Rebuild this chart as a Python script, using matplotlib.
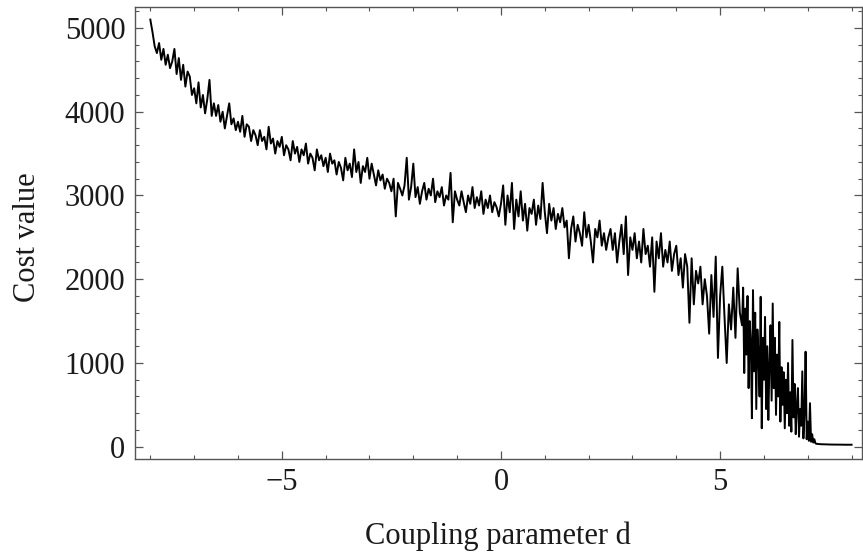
import numpy as np
import matplotlib
matplotlib.use("Agg")
import matplotlib.pyplot as plt
from matplotlib.ticker import MultipleLocator

# coupling parameter d: coarse steps of 0.05 from -8 to 5.45,
# finer steps of 0.025 through the noisy drop (5.5 .. 7.2),
# then 0.05 again from 7.25 to 8
d_main = (-8.0, 0.05)
d_drop = (5.5, 0.025)
d_tail = (7.25, 0.05)

# cost value, 10 values per 0.5 of d
cost_main = [
    5100, 4950, 4780, 4700, 4820, 4620, 4750, 4560, 4680, 4520,   # -8.0
    4600, 4750, 4450, 4640, 4380, 4560, 4300, 4480, 4420, 4200,   # -7.5
    4280, 4100, 4350, 4050, 4200, 3980, 4150, 4380, 3950, 4100,   # -7.0
    3950, 4080, 3880, 4000, 3800, 3950, 4100, 3850, 3920, 3780,   # -6.5
    3880, 3760, 3950, 3700, 3850, 3820, 3650, 3780, 3720, 3600,   # -6.0
    3780, 3650, 3700, 3550, 3820, 3620, 3680, 3500, 3650, 3580,   # -5.5
    3700, 3480, 3600, 3550, 3420, 3650, 3500, 3580, 3400, 3550,   # -5.0
    3480, 3620, 3380, 3500, 3450, 3300, 3550, 3420, 3480, 3350,   # -4.5
    3450, 3280, 3500, 3380, 3420, 3250, 3400, 3330, 3180, 3450,   # -4.0
    3300, 3380, 3220, 3550, 3280, 3400, 3150, 3350, 3280, 3450,   # -3.5
    3200, 3380, 3250, 3120, 3300, 3180, 3250, 3080, 3200, 3150,   # -3.0
    3050, 3200, 2750, 3150, 3080, 3000, 3120, 3450, 2950, 3100,   # -2.5
    3380, 2980, 3100, 2900, 3050, 3150, 2950, 3080, 3000, 3200,   # -2.0
    2920, 3050, 2980, 3100, 2880, 3000, 2950, 3270, 2680, 3050,   # -1.5
    2950, 2880, 3050, 2920, 2800, 3000, 2900, 3100, 2850, 2980,   # -1.0
    2880, 3050, 2780, 2950, 2850, 3000, 2800, 2920, 2860, 2750,   # -0.5
    2900, 3120, 2650, 3000, 2800, 3150, 2600, 2950, 2750, 3050,   # 0.0
    2700, 2900, 2580, 2850, 2780, 2950, 2650, 2880, 2720, 3150,   # 0.5
    2800, 2550, 2900, 2700, 2850, 2600, 2780, 2680, 2850, 2620,   # 1.0
    2700, 2250, 2600, 2750, 2450, 2650, 2550, 2400, 2800, 2500,   # 1.5
    2650, 2450, 2200, 2600, 2500, 2700, 2400, 2550, 2350, 2500,   # 2.0
    2600, 2350, 2550, 2200, 2450, 2650, 2300, 2750, 2050, 2500,   # 2.5
    2350, 2550, 2250, 2450, 2200, 2600, 2300, 2400, 2150, 2500,   # 3.0
    1850, 2450, 2250, 2550, 2150, 2350, 2200, 2450, 2100, 2300,   # 3.5
    2400, 2050, 2250, 1900, 2300, 2150, 1480, 2250, 1700, 2100,   # 4.0
    1950, 2150, 1700, 2000, 1800, 1350, 2050, 1550, 2270, 1060,   # 4.5
    1800, 2150, 1550, 1000, 1700, 1400, 1900, 1300, 2130, 1600,   # 5.0
]

cost_drop = [
    1450, 1900, 880, 1650, 1100, 1800, 700, 1500, 1250, 340,      # 5.5
    1870, 900, 1600, 450, 1400, 1100, 600, 1790, 220, 1300,       # 5.75
    800, 1550, 450, 1200, 320, 1000, 1450, 550, 1710, 700,        # 6.0
    1300, 380, 1100, 600, 1490, 300, 950, 500, 890, 220,          # 6.25
    800, 400, 1000, 250, 650, 180, 1275, 350, 750, 150,           # 6.5
    500, 700, 120, 450, 250, 900, 100, 400, 1135, 90,             # 6.75
    300, 70, 520, 60, 150, 50, 90, 40, 35,                        # 7.0
]

cost_tail = [32, 30, 29, 28, 27, 27, 26, 26, 25, 25, 25, 24, 24, 24, 24, 24]


def grid(start_step, n):
    return start_step[0] + start_step[1] * np.arange(n)


d = np.concatenate([grid(d_main, len(cost_main)),
                    grid(d_drop, len(cost_drop)),
                    grid(d_tail, len(cost_tail))])
cost = np.array(cost_main + cost_drop + cost_tail)

plt.rcParams['font.family'] = ['Liberation Serif', 'DejaVu Serif']
frame_col = '#555555'

fig = plt.figure(figsize=(8.63, 5.59), dpi=100)
ax = fig.add_axes([0.1564, 0.1794, 0.8426, 0.8076])

ax.plot(d, cost, color='black', lw=1.4)

ax.set_xlim(-8.35, 8.24)
ax.set_ylim(-143, 5247)

ax.xaxis.set_major_locator(MultipleLocator(5))
ax.xaxis.set_minor_locator(MultipleLocator(1))
ax.yaxis.set_major_locator(MultipleLocator(1000))
ax.yaxis.set_minor_locator(MultipleLocator(200))

for s in ax.spines.values():
    s.set_color(frame_col)
    s.set_linewidth(1.0)

ax.tick_params(which='both', direction='in', top=True, right=True,
               color=frame_col, labelsize=22, labelcolor='#1a1a1a', pad=7)
ax.tick_params(which='major', length=5.5, width=0.9)
ax.tick_params(which='minor', length=3.2, width=0.8)

ax.set_xticks([-5, 0, 5])
ax.set_xticklabels(['\u22125', '0', '5'])

ax.set_xlabel('Coupling parameter d', fontsize=22, color='#1a1a1a')
ax.xaxis.set_label_coords(0.499, -0.14)
ax.set_ylabel('Cost value', fontsize=22, color='#1a1a1a')
ax.yaxis.set_label_coords(-0.128, 0.491)

fig.savefig('out.png', dpi=100)
